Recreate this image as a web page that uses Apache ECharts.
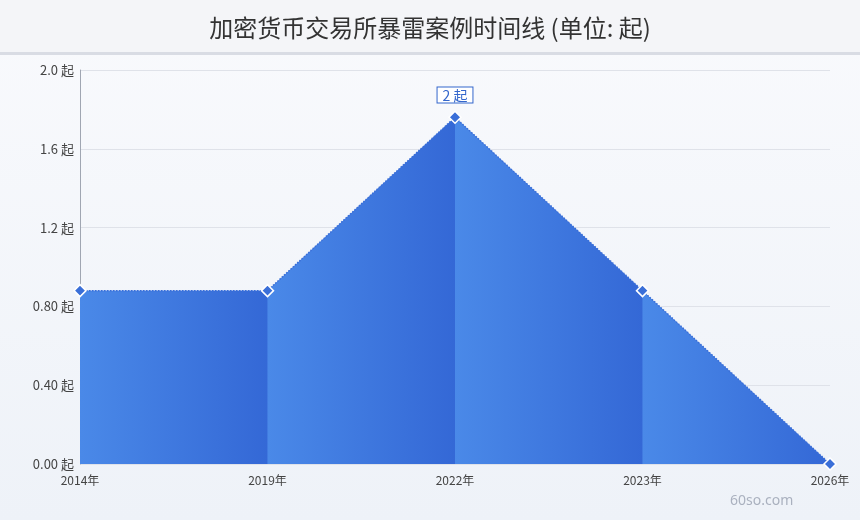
<!DOCTYPE html>
<html lang="zh">
<head>
<meta charset="utf-8">
<script src="https://cdn.jsdelivr.net/npm/echarts@6/dist/echarts.min.js"></script>
<style>
  html, body { margin: 0; padding: 0; }
  #main { width: 860px; height: 520px; }
</style>
</head>
<body>
<div id="main"></div>
<script>
// 数据
var years = ['2014年', '2019年', '2022年', '2023年', '2026年'];
var counts = [1, 1, 2, 1, 0];
var yTickLabels = ['0.00 起', '0.40 起', '0.80 起', '1.2 起', '1.6 起', '2.0 起'];

var chart = echarts.init(document.getElementById('main'));

// 底层整块面积，遮住分段之间的接缝
var areaSeries = [{
  type: 'line',
  data: counts,
  symbol: 'none',
  lineStyle: { width: 0 },
  areaStyle: { opacity: 1, color: '#3a6ed9' },
  silent: true,
  z: 1
}];
// 每段单独一个面积系列，各自横向渐变
for (var i = 0; i < counts.length - 1; i++) {
  var seg = counts.map(function (v, j) { return (j === i || j === i + 1) ? v : '-'; });
  areaSeries.push({
    type: 'line',
    data: seg,
    symbol: 'none',
    lineStyle: { width: 0 },
    areaStyle: {
      opacity: 1,
      color: new echarts.graphic.LinearGradient(0, 0, 1, 0, [
        { offset: 0, color: '#4a89e8' },
        { offset: 1, color: '#3468d6' }
      ])
    },
    silent: true,
    z: 2
  });
}

var lineData = counts.map(function (v, j) {
  if (v === Math.max.apply(null, counts)) {
    return {
      value: v,
      label: {
        show: true,
        position: 'top',
        distance: 8,
        formatter: '{c} 起',
        color: '#3366cc',
        fontSize: 14,
        backgroundColor: '#fff',
        borderColor: '#3366cc',
        borderWidth: 1,
        padding: [1, 5, 0, 5]
      }
    };
  }
  return v;
});

var option = {
  backgroundColor: new echarts.graphic.LinearGradient(0, 0, 0, 1, [
    { offset: 0, color: '#f9fafd' },
    { offset: 1, color: '#eef2f8' }
  ]),
  textStyle: { fontFamily: 'Noto Sans CJK SC' },
  animation: false,
  title: {
    text: '加密货币交易所暴雷案例时间线 (单位: 起)',
    left: 'center',
    top: 11,
    textStyle: { fontSize: 24, fontWeight: 'normal', color: '#333', fontFamily: 'Noto Sans CJK SC' }
  },
  graphic: [
    { type: 'rect', left: 0, top: 0, z: -1, shape: { width: 860, height: 52 }, style: { fill: '#f4f5f8' } },
    { type: 'rect', left: 0, top: 52, z: -1, shape: { width: 860, height: 3 }, style: { fill: '#d9dce4' } },
    { type: 'text', left: 730, top: 494, style: { text: '60so.com', fill: '#aab1bf', fontSize: 14, fontFamily: 'Noto Sans' } }
  ],
  grid: { left: 80, right: 30, top: 70, bottom: 56 },
  xAxis: {
    type: 'category',
    data: years,
    boundaryGap: false,
    axisLine: { show: false },
    axisTick: { show: false },
    axisLabel: { color: '#444', fontSize: 12, margin: 10 },
    splitLine: { show: false }
  },
  yAxis: {
    type: 'value',
    min: 0,
    max: 25 / 11,
    interval: 5 / 11,
    axisLine: { show: true, lineStyle: { color: '#a0a6b2' } },
    axisTick: { show: false },
    axisLabel: {
      color: '#444',
      fontSize: 13,
      margin: 6,
      formatter: function (v, idx) { return yTickLabels[idx]; }
    },
    splitLine: { lineStyle: { color: '#dfe2e9' } }
  },
  series: areaSeries.concat([{
    type: 'line',
    data: lineData,
    symbol: 'diamond',
    symbolSize: 12,
    itemStyle: { color: '#3a6fd8', borderColor: '#fff', borderWidth: 1.5 },
    lineStyle: { color: '#3a6fd8', width: 1.5, type: 'dotted' },
    z: 3
  }])
};

chart.setOption(option);
</script>
</body>
</html>
